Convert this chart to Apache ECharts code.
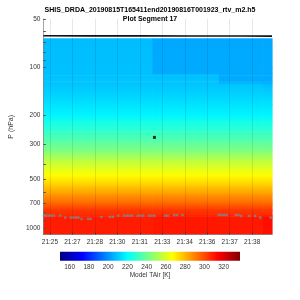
<!DOCTYPE html>
<html>
<head>
<meta charset="utf-8">
<script src="https://cdn.jsdelivr.net/npm/echarts@6/dist/echarts.min.js"></script>
<style>
  html, body { margin: 0; padding: 0; background: #fff; }
  #chart { width: 300px; height: 300px; }
</style>
</head>
<body>
<div id="chart"></div>
<script>
// time is seconds of day (21:25:30 .. 21:40:09)
const timeMin = 77130;
const timeMax = 78009;
const timeTicks = [77155.2, 77241.6, 77328, 77414.4, 77500.8, 77587.2, 77673.6, 77760, 77846.4, 77932.8];
const pTicks = [50, 100, 200, 300, 500, 700, 1000];
const pMinorTicks = [50, 60, 70, 80, 90, 100, 200, 300, 400, 500, 600, 700, 800, 900, 1000];
const cbarTicks = [160, 180, 200, 220, 240, 260, 280, 300, 320];

// retrieval levels (hPa) and temperature profiles (K) per time block
const levels = [66, 100, 108, 112, 122, 128, 150, 170, 195, 220, 250, 290, 330, 380, 430, 470, 540, 620, 700, 770, 830, 845, 1100];
const segEdges = [77130, 77549, 77805, 77971, 78009];
const tairSeg1 = [208, 208.5, 208.7, 208.8, 209.3, 209.6, 212.3, 215, 218, 224, 229.3, 236.7, 243.5, 255, 262, 267, 276, 286, 295, 303.5, 306, 308.5, 308.5];
const tairSeg2 = [204.3, 204.5, 204.6, 208.5, 209.3, 209.6, 212.3, 215, 218, 224, 229.3, 236.7, 243.5, 255, 262, 267, 276, 286, 295, 303.5, 306, 309.5, 309.5];
const tairSeg3 = [204.3, 204.5, 204.5, 204.5, 204.6, 209.5, 212.3, 215, 218, 224, 229.3, 236.7, 243.5, 255, 262, 267, 276, 286, 295, 303.5, 306, 309, 309];
const tairSeg4 = [204.3, 204.5, 204.5, 204.5, 204.6, 208, 212.3, 215, 218, 224, 229.3, 236.7, 243.5, 255, 262, 267, 276, 286, 295, 303.5, 306, 311, 311];
const segProfiles = [tairSeg1, tairSeg2, tairSeg3, tairSeg4];

// aircraft pressure
const flightTime = [77130, 77300, 77500, 77700, 77900, 78009];
const flightP = [63.6, 63.7, 63.7, 63.8, 63.8, 63.9];

// grey markers near the surface
const dotTime = [77132, 77141, 77151, 77160, 77170, 77195, 77214, 77236, 77246, 77256, 77265, 77277, 77302, 77311, 77353, 77386, 77397, 77418, 77440, 77451, 77461, 77471, 77493, 77503, 77514, 77536, 77546, 77556, 77599, 77608, 77633, 77643, 77665, 77804, 77814, 77824, 77834, 77870, 77880, 77890, 77922, 77944, 77964, 78004];
const dotP = [838, 838, 838, 838, 838, 838, 862, 862, 862, 862, 862, 878, 878, 878, 854, 854, 854, 838, 838, 838, 838, 838, 838, 838, 838, 838, 838, 838, 838, 838, 830, 830, 830, 830, 830, 830, 830, 830, 830, 842, 842, 842, 862, 862];

const markTime = [77557];
const markP = [273];

const tMin = 150, tMax = 337;

function jet(v) {
  let t = (v - tMin) / (tMax - tMin);
  t = Math.max(0, Math.min(1, t));
  const c = (x) => Math.round(255 * Math.max(0, Math.min(1, x)));
  const r = c(1.5 - Math.abs(4 * t - 3));
  const g = c(1.5 - Math.abs(4 * t - 2));
  const b = c(1.5 - Math.abs(4 * t - 1));
  return 'rgb(' + r + ',' + g + ',' + b + ')';
}

const cells = [];
for (let s = 0; s < segProfiles.length; s++) {
  const prof = segProfiles[s];
  for (let i = 0; i < levels.length - 1; i++) {
    cells.push([segEdges[s], segEdges[s + 1], levels[i], levels[i + 1], prof[i], prof[i + 1]]);
  }
}

function renderCell(params, api) {
  const a = api.coord([api.value(0), api.value(2)]);
  const b = api.coord([api.value(1), api.value(3)]);
  const x = Math.min(a[0], b[0]);
  const y = Math.min(a[1], b[1]);
  return {
    type: 'rect',
    shape: { x: x, y: y, width: Math.abs(b[0] - a[0]) + 0.6, height: Math.abs(b[1] - a[1]) + 0.6 },
    style: {
      fill: new echarts.graphic.LinearGradient(0, 0, 0, 1, [
        { offset: 0, color: jet(api.value(4)) },
        { offset: 1, color: jet(api.value(5)) }
      ])
    }
  };
}

function renderBar(params, api) {
  const a = api.coord([api.value(0), 1]);
  const b = api.coord([api.value(1), 0]);
  const stops = [0, 0.125, 0.375, 0.625, 0.875, 1].map((o) => ({ offset: o, color: jet(tMin + o * (tMax - tMin)) }));
  return {
    type: 'rect',
    shape: { x: a[0], y: a[1], width: b[0] - a[0], height: b[1] - a[1] },
    style: { fill: new echarts.graphic.LinearGradient(0, 0, 1, 0, stops) }
  };
}

function hhmm(v) {
  const h = Math.floor(v / 3600);
  const m = Math.floor((v - h * 3600) / 60);
  return h + ':' + (m < 10 ? '0' : '') + m;
}

const font = 'Liberation Sans, Arial, sans-serif';
const chart = echarts.init(document.getElementById('chart'));
chart.setOption({
  animation: false,
  backgroundColor: '#fff',
  title: {
    text: 'SHIS_DRDA_20190815T165411end20190816T001923_rtv_m2.h5\nPlot Segment 17',
    left: 'center',
    top: 1,
    textStyle: { fontSize: 7, fontWeight: 'bold', color: '#000', fontFamily: font, lineHeight: 9 }
  },
  grid: [
    { left: 39, right: 28, top: 19, bottom: 65.4 },
    { left: 60, width: 180, top: 251.7, height: 9 }
  ],
  xAxis: [
    {
      type: 'value', gridIndex: 0, min: timeMin, max: timeMax, z: 3,
      axisLine: { show: true, onZero: false, lineStyle: { color: '#666', width: 0.6 } },
      axisTick: { show: true, inside: true, length: 3, customValues: timeTicks, lineStyle: { color: '#444' } },
      axisLabel: { customValues: timeTicks, formatter: hhmm, fontSize: 6.5, color: '#333', margin: 4, fontFamily: font },
      splitLine: { show: true, lineStyle: { color: 'rgba(0,0,0,0.12)', width: 0.8 } }
    },
    {
      type: 'value', gridIndex: 1, min: tMin, max: tMax,
      name: 'Model TAir [K]', nameLocation: 'middle', nameGap: 10,
      nameTextStyle: { fontSize: 6.5, color: '#333', fontFamily: font },
      axisLine: { show: false },
      axisTick: { show: false },
      axisLabel: { customValues: cbarTicks, formatter: (v) => String(v), fontSize: 6.5, color: '#333', margin: 3, fontFamily: font },
      splitLine: { show: false }
    }
  ],
  yAxis: [
    {
      type: 'log', logBase: 10, gridIndex: 0, min: 50, max: 1100, inverse: true, z: 3,
      name: 'P (hPa)', nameLocation: 'middle', nameGap: 17, nameRotate: 90,
      nameTextStyle: { fontSize: 7, color: '#333', fontFamily: font },
      axisLine: { show: true, lineStyle: { color: '#666', width: 0.6 } },
      axisTick: { show: true, inside: true, length: 2.5, customValues: pMinorTicks, lineStyle: { color: '#555' } },
      axisLabel: { customValues: pTicks, formatter: (v) => String(Math.round(v)), fontSize: 6.5, color: '#333', margin: 3, fontFamily: font },
      splitLine: { show: false }
    },
    { type: 'value', gridIndex: 1, min: 0, max: 1, show: false }
  ],
  series: [
    {
      type: 'custom', xAxisIndex: 0, yAxisIndex: 0, clip: true, z: 1,
      renderItem: renderCell, encode: { x: [0, 1], y: [2, 3] }, data: cells, silent: true
    },
    {
      type: 'line', xAxisIndex: 0, yAxisIndex: 0, z: 5, showSymbol: false, symbol: 'none',
      lineStyle: { color: '#111', width: 1.6 },
      data: flightTime.map((t, i) => [t, flightP[i]])
    },
    {
      type: 'scatter', xAxisIndex: 0, yAxisIndex: 0, z: 5, symbol: 'rect', symbolSize: 2.4,
      itemStyle: { color: '#7d8891' },
      data: dotTime.map((t, i) => [t, dotP[i]])
    },
    {
      type: 'scatter', xAxisIndex: 0, yAxisIndex: 0, z: 6, symbol: 'rect', symbolSize: 3,
      itemStyle: { color: '#000' },
      data: markTime.map((t, i) => [t, markP[i]])
    },
    {
      type: 'custom', xAxisIndex: 1, yAxisIndex: 1, renderItem: renderBar,
      encode: { x: [0, 1] }, data: [[tMin, tMax]], silent: true
    }
  ]
});
</script>
</body>
</html>
